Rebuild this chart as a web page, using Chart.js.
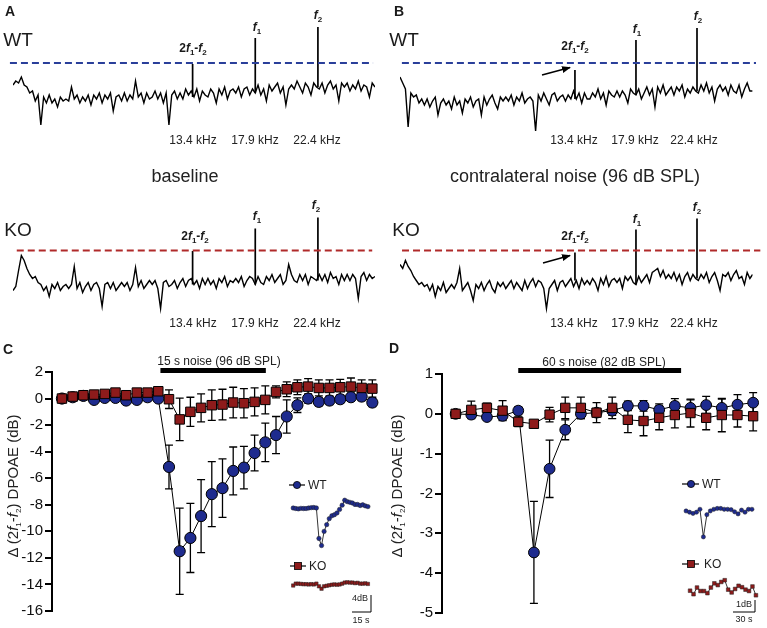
<!DOCTYPE html>
<html>
<head>
<meta charset="utf-8">
<script src="https://cdn.jsdelivr.net/npm/chart.js@4.4.0/dist/chart.umd.min.js"></script>
<style>
body { margin: 0; background: #fff; }
#fig { position: relative; width: 767px; height: 628px; overflow: hidden;
       font-family: "Liberation Sans", Arial, sans-serif; color: #1a1a1a; }
#fig canvas, #fig svg { position: absolute; }
.t { position: absolute; transform: translate(-50%, -50%); white-space: nowrap; line-height: 1; }
.l { position: absolute; transform: translate(0, -50%); white-space: nowrap; line-height: 1; }
.letter { font-weight: bold; font-size: 14px; }
.big { font-size: 19px; }
.khz { font-size: 12px; color: #222; }
.pk { font-size: 12px; font-weight: bold; }
.pk sub, .yt sub { font-size: 8px; vertical-align: -3px; }
.cond { font-size: 18px; color: #222; }
.noise { font-size: 12px; color: #222; }
.yt { font-size: 15px; color: #222; transform: translate(-50%, -50%) rotate(-90deg); }
.leg { font-size: 12px; color: #222; }
.sb { font-size: 9px; color: #222; }
</style>
</head>
<body>
<div id="fig">
  <canvas id="sAW" width="384" height="140" style="left:0;top:0"></canvas>
  <canvas id="sBW" width="383" height="140" style="left:384px;top:0"></canvas>
  <canvas id="sAK" width="384" height="140" style="left:0;top:185px"></canvas>
  <canvas id="sBK" width="383" height="140" style="left:384px;top:185px"></canvas>
  <canvas id="cC" width="384" height="273" style="left:0;top:355px"></canvas>
  <canvas id="cD" width="383" height="271" style="left:384px;top:357px"></canvas>
  <canvas id="iWC" width="90" height="60" style="left:286px;top:495px"></canvas>
  <canvas id="iKC" width="90" height="25" style="left:286px;top:572px"></canvas>
  <canvas id="iWD" width="82" height="55" style="left:678px;top:495px"></canvas>
  <canvas id="iKD" width="82" height="30" style="left:682px;top:575px"></canvas>

  <svg width="767" height="628" style="left:0;top:0">
    <defs>
      <marker id="ah" markerUnits="userSpaceOnUse" markerWidth="9" markerHeight="7" refX="8" refY="3.5" orient="auto">
        <path d="M0,0 L9,3.5 L0,7 z" fill="#000"/>
      </marker>
    </defs>
    <line x1="542" y1="75" x2="570" y2="67.5" stroke="#000" stroke-width="1.5" marker-end="url(#ah)"/>
    <line x1="543" y1="263" x2="570" y2="255.5" stroke="#000" stroke-width="1.5" marker-end="url(#ah)"/>
    <!-- inset legends -->
    <line x1="289" y1="485" x2="305" y2="485" stroke="#000" stroke-width="1.2"/>
    <circle cx="297" cy="485" r="3.6" fill="#1e2b8e" stroke="#000" stroke-width="0.8"/>
    <line x1="290" y1="566" x2="306" y2="566" stroke="#000" stroke-width="1.2"/>
    <rect x="294.5" y="562.5" width="7" height="7" fill="#8e1b1b" stroke="#000" stroke-width="0.8"/>
    <line x1="682" y1="484" x2="699" y2="484" stroke="#000" stroke-width="1.2"/>
    <circle cx="691" cy="484" r="3.6" fill="#1e2b8e" stroke="#000" stroke-width="0.8"/>
    <line x1="682" y1="564" x2="699" y2="564" stroke="#000" stroke-width="1.2"/>
    <rect x="687.5" y="560.5" width="7" height="7" fill="#8e1b1b" stroke="#000" stroke-width="0.8"/>
    <!-- scale bars -->
    <polyline points="371,595 371,612 352,612" fill="none" stroke="#000" stroke-width="1"/>
    <polyline points="755,600 755,612 733,612" fill="none" stroke="#000" stroke-width="1"/>
  </svg>

  <div class="l letter" style="left:5px;top:11px">A</div>
  <div class="l letter" style="left:394px;top:11px">B</div>
  <div class="l letter" style="left:3px;top:349px">C</div>
  <div class="l letter" style="left:389px;top:348px">D</div>

  <div class="t big" style="left:18px;top:39px">WT</div>
  <div class="t big" style="left:404px;top:39px">WT</div>
  <div class="t big" style="left:18px;top:229px">KO</div>
  <div class="t big" style="left:406px;top:229px">KO</div>

  <div class="t pk" style="left:193px;top:49px">2<i>f</i><sub>1</sub>-<i>f</i><sub>2</sub></div>
  <div class="t pk" style="left:257px;top:28px"><i>f</i><sub>1</sub></div>
  <div class="t pk" style="left:318px;top:16px"><i>f</i><sub>2</sub></div>
  <div class="t pk" style="left:195px;top:237px">2<i>f</i><sub>1</sub>-<i>f</i><sub>2</sub></div>
  <div class="t pk" style="left:257px;top:217px"><i>f</i><sub>1</sub></div>
  <div class="t pk" style="left:316px;top:206px"><i>f</i><sub>2</sub></div>
  <div class="t pk" style="left:575px;top:47px">2<i>f</i><sub>1</sub>-<i>f</i><sub>2</sub></div>
  <div class="t pk" style="left:637px;top:30px"><i>f</i><sub>1</sub></div>
  <div class="t pk" style="left:698px;top:17px"><i>f</i><sub>2</sub></div>
  <div class="t pk" style="left:575px;top:237px">2<i>f</i><sub>1</sub>-<i>f</i><sub>2</sub></div>
  <div class="t pk" style="left:637px;top:220px"><i>f</i><sub>1</sub></div>
  <div class="t pk" style="left:697px;top:208px"><i>f</i><sub>2</sub></div>

  <div class="t khz" style="left:193px;top:140px">13.4 kHz</div>
  <div class="t khz" style="left:255px;top:140px">17.9 kHz</div>
  <div class="t khz" style="left:317px;top:140px">22.4 kHz</div>
  <div class="t khz" style="left:574px;top:140px">13.4 kHz</div>
  <div class="t khz" style="left:635px;top:140px">17.9 kHz</div>
  <div class="t khz" style="left:694px;top:140px">22.4 kHz</div>
  <div class="t khz" style="left:193px;top:323px">13.4 kHz</div>
  <div class="t khz" style="left:255px;top:323px">17.9 kHz</div>
  <div class="t khz" style="left:317px;top:323px">22.4 kHz</div>
  <div class="t khz" style="left:574px;top:323px">13.4 kHz</div>
  <div class="t khz" style="left:635px;top:323px">17.9 kHz</div>
  <div class="t khz" style="left:694px;top:323px">22.4 kHz</div>

  <div class="t cond" style="left:185px;top:176px">baseline</div>
  <div class="t cond" style="left:575px;top:176px">contralateral noise (96 dB SPL)</div>

  <div class="t noise" style="left:219px;top:361px">15 s noise (96 dB SPL)</div>
  <div class="t noise" style="left:604px;top:362px">60 s noise (82 dB SPL)</div>

  <div class="t yt" style="left:14px;top:486px">&Delta; (2<i>f</i><sub>1</sub>-<i>f</i><sub>2</sub>) DPOAE (dB)</div>
  <div class="t yt" style="left:398px;top:486px">&Delta; (2<i>f</i><sub>1</sub>-<i>f</i><sub>2</sub>) DPOAE (dB)</div>

  <div class="l leg" style="left:308px;top:485px">WT</div>
  <div class="l leg" style="left:309px;top:566px">KO</div>
  <div class="l leg" style="left:702px;top:484px">WT</div>
  <div class="l leg" style="left:704px;top:564px">KO</div>

  <div class="t sb" style="left:360px;top:598px">4dB</div>
  <div class="t sb" style="left:361px;top:620px">15 s</div>
  <div class="t sb" style="left:744px;top:604px">1dB</div>
  <div class="t sb" style="left:744px;top:619px">30 s</div>
</div>

<script>
// ---- spectra (A, B): level in dB re. the dashed line, one sample every 0.2 kHz from 0.5 kHz
var freqStart = 0.5;
var freqStep = 0.2;
var freqEnd = 26.5;

var wtBaseline = [
  -11, -9, -10, -7, -11, -12, -15, -14, -19, -16,
  -31, -17, -20, -16, -20, -18, -22, -17, -19, -18,
  -19, -12, -18, -16, -20, -17, -19, -16, -21, -16,
  -18, -15, -20, -16, -18, -15, -24, -17, -16, -19,
  -15, -19, -16, -18, -9, -17, -15, -20, -15, -18,
  -17, -14, -18, -15, -20, -15, -31, -16, -14, -18,
  -15, -18, -13, -16, -14, -17, -13, -19, -14, -16,
  -17, -13, -15, -20, -13, -16, -12, -18, -14, -13,
  -15, -12, -17, -13, -12, -16, -13, -15, -11, -16,
  -13, -19, -11, -14, -12, -10, -15, -12, -21, -13,
  -11, -13, -9, -12, -15, -10, -12, -16, -10, -12,
  -13, -10, -15, -11, -9, -13, -11, -19, -10, -12,
  -10, -14, -11, -13, -9, -14, -11, -12, -17, -10,
  -12
];
var wtNoise = [
  -7, -10, -13, -32, -15, -17, -16, -20, -18, -21,
  -18, -22, -19, -17, -26, -20, -18, -21, -19, -23,
  -17, -21, -19, -25, -18, -20, -17, -22, -19, -18,
  -26, -17, -21, -18, -16, -20, -23, -17, -19, -17,
  -19, -16, -21, -17, -19, -15, -20, -18, -17, -19,
  -34, -16, -19, -15, -18, -21, -16, -15, -19, -17,
  -16, -19, -16, -18, -14, -18, -15, -20, -15, -18,
  -18, -15, -17, -13, -18, -15, -21, -14, -16, -17,
  -14, -17, -14, -16, -20, -13, -15, -16, -13, -18,
  -15, -12, -16, -13, -22, -12, -15, -11, -16, -14,
  -12, -16, -12, -14, -11, -17, -13, -15, -12, -14,
  -15, -11, -14, -10, -15, -12, -19, -13, -11, -14,
  -12, -16, -11, -14, -15, -11, -17, -13, -10, -14,
  -14
];
var koBaseline = [
  -20, -18, -10, -2.5, -5, -9, -12, -14, -13, -16,
  -17, -20, -18, -23, -17, -19, -16, -20, -18, -17,
  -19, -17, -8, -19, -16, -21, -18, -16, -20, -17,
  -16, -19, -28, -17, -16, -19, -16, -20, -18, -16,
  -18, -16, -20, -17, -8.5, -18, -15, -19, -17, -15,
  -17, -15, -19, -29, -16, -15, -18, -17, -15, -19,
  -16, -14, -18, -15, -14, -17, -15, -19, -14, -17,
  -14, -17, -15, -19, -14, -16, -13, -18, -15, -16,
  -14, -16, -13, -18, -15, -13, -14, -17, -13, -16,
  -17, -13, -15, -12, -16, -14, -12, -17, -15, -7,
  -12, -15, -16, -12, -15, -12, -17, -13, -14, -15,
  -12, -15, -12, -16, -11, -14, -13, -17, -12, -15,
  -12, -15, -12, -14, -24, -13, -11, -15, -12, -14,
  -13
];
var koNoise = [
  -7, -9, -5, -8, -10, -13, -15, -17, -16, -18,
  -17, -20, -17, -23, -18, -20, -16, -21, -19, -17,
  -19, -16, -9, -20, -18, -16, -20, -25, -17, -19,
  -16, -20, -17, -15, -19, -21, -16, -18, -16, -19,
  -17, -15, -19, -16, -18, -20, -15, -19, -16, -14,
  -18, -15, -16, -19, -29, -19, -17, -15, -20, -16,
  -15, -18, -16, -14, -18, -15, -19, -14, -17, -15,
  -17, -14, -16, -20, -14, -17, -13, -18, -15, -14,
  -16, -14, -19, -13, -15, -13, -16, -17, -13, -16,
  -14, -12, -16, -11, -10, -9, -13, -10, -14, -12,
  -14, -11, -15, -12, -17, -13, -11, -15, -12, -14,
  -15, -12, -14, -11, -16, -13, -11, -15, -20, -12,
  -13, -11, -15, -12, -10, -14, -13, -17, -11, -14,
  -12
];

// 2f1-f2, f1, f2
var peakFreqs = [13.4, 17.9, 22.4];
var wtBaselinePeaks = [-0.5, 12.5, 18];
var wtNoisePeaks = [-3.5, 11.5, 17.5];
var koBaselinePeaks = [-0.3, 11, 16.5];
var koNoisePeaks = [-1, 10.5, 16];

// dashed reference line extent (kHz)
var dashA = [0.28, 26.36];
var dashB = [0.64, 26.75];
var dashAK = [0.77, 26.3];
var dashBK = [0.65, 27.07];

// ---- C: 15 s noise (96 dB SPL), mean +- error
var wtC = [0, 0.1, 0.2, -0.1, 0.05, 0.05, -0.15, -0.1, 0.1, 0, -5.15, -11.5, -10.5, -8.85, -7.2, -6.75, -5.45, -5.2, -4.1, -3.3, -2.75, -1.35, -0.5, 0, -0.25, -0.15, -0.05, 0.1, 0.15, -0.3];
var wtCErr = [0.1, 0.1, 0.1, 0.1, 0.1, 0.1, 0.15, 0.15, 0.15, 0.15, 1.65, 3.25, 2.6, 2.75, 2.45, 2.2, 1.8, 1.6, 1.35, 1.45, 1.4, 1.25, 0.55, 0.35, 0.3, 0.3, 0.3, 0.3, 0.3, 0.3];
var koC = [0, 0.15, 0.25, 0.3, 0.35, 0.45, 0.25, 0.45, 0.45, 0.55, -0.05, -1.57, -1.0, -0.7, -0.5, -0.45, -0.3, -0.35, -0.25, -0.1, 0.5, 0.7, 0.85, 0.9, 0.8, 0.8, 0.85, 0.9, 0.8, 0.75];
var koCErr = [0.1, 0.1, 0.1, 0.1, 0.15, 0.15, 0.15, 0.15, 0.15, 0.15, 0.7, 1.6, 1.1, 1.05, 1.15, 1.15, 1.15, 1.1, 1.05, 1.05, 0.45, 0.55, 0.55, 0.6, 0.6, 0.6, 0.6, 0.65, 0.6, 0.65];
var noiseC = [9.2, 19.05];
var insetWtC = [0, -0.15, -0.25, -0.1, -0.15, -0.15, 0, 0.1, 0.15, 0, -8.6, -10.6, -6.6, -4.7, -3.0, -2.2, -1.9, -1.4, -0.4, 0.8, 2.2, 1.8, 1.6, 1.4, 1.0, 1.0, 0.7, 0.9, 0.6, 0.4];
var insetKoC = [-0.5, 0.2, 0.2, 0.1, 0, 0, -0.1, 0, -0.1, 0.2, -0.8, -1.7, -0.8, -0.6, -0.4, -0.2, -0.1, -0.2, -0.1, 0.2, 0.6, 0.7, 0.6, 0.6, 0.4, 0.5, 0.2, 0.2, 0.3, 0.1];

// ---- D: 60 s noise (82 dB SPL)
var wtD = [0, -0.02, -0.08, -0.05, 0.08, -3.48, -1.38, -0.4, 0, 0.03, 0.08, 0.2, 0.2, 0.1, 0.2, 0.15, 0.22, 0.15, 0.23, 0.28];
var wtDErr = [0.05, 0.08, 0.08, 0.1, 0.1, 1.28, 0.72, 0.25, 0.12, 0.1, 0.12, 0.12, 0.13, 0.15, 0.18, 0.2, 0.22, 0.22, 0.25, 0.25];
var koD = [0, 0.1, 0.15, 0.08, -0.2, -0.25, -0.02, 0.15, 0.15, 0.03, 0.15, -0.15, -0.18, -0.1, -0.03, 0.02, -0.1, -0.03, -0.03, -0.06];
var koDErr = [0.05, 0.22, 0.12, 0.25, 0.12, 0.08, 0.18, 0.27, 0.27, 0.25, 0.27, 0.32, 0.37, 0.3, 0.32, 0.35, 0.3, 0.42, 0.3, 0.37];
var noiseD = [4.0, 14.4];
var insetWtD = [-0.1, -0.25, -0.4, -0.25, 0.1, -3.2, -0.55, -0.1, 0.1, 0.2, 0.2, 0.1, 0.1, 0.05, -0.2, -0.45, 0, -0.25, 0.1, 0.1];
var insetKoD = [-0.1, -0.6, 0.35, -0.15, -0.15, -0.45, 0.35, 0.95, 0.7, 1.15, 1.4, 0.05, -0.35, 0.15, 0.6, 0.4, 0.05, -0.15, 0.5, -0.75];

var BLUE = '#1e2b8e';
var RED = '#8e1b1b';

Chart.defaults.font.family = '"Liberation Sans", Arial, sans-serif';
Chart.defaults.animation = false;

function noAxes(xr, yr) {
  return {
    x: { type: 'linear', min: xr[0], max: xr[1], display: false },
    y: { min: yr[0], max: yr[1], display: false }
  };
}

function spectrum(id, levels, tops, dash, dashColor, yr, pad) {
  var trace = levels.map(function (v, i) { return { x: freqStart + i * freqStep, y: v }; });
  var peaks = [];
  peakFreqs.forEach(function (f, k) {
    var base = levels[Math.round((f - freqStart) / freqStep)];
    peaks.push({ x: f, y: base }, { x: f, y: tops[k] }, { x: f, y: null });
  });
  new Chart(document.getElementById(id), {
    type: 'line',
    data: { datasets: [
      { data: [{ x: dash[0], y: 0 }, { x: dash[1], y: 0 }], borderColor: dashColor, borderWidth: 2,
        borderDash: [7, 4], pointRadius: 0, clip: false },
      { data: trace, borderColor: '#000', borderWidth: 1.4, pointRadius: 0 },
      { data: peaks, borderColor: '#000', borderWidth: 1.7, pointRadius: 0, spanGaps: false }
    ] },
    options: {
      responsive: false, events: [],
      layout: { padding: pad },
      plugins: { legend: { display: false }, tooltip: { enabled: false } },
      scales: noAxes([freqStart, freqEnd], yr)
    }
  });
}

spectrum('sAW', wtBaseline, wtBaselinePeaks, dashA, '#2a3f9a', [-36, 26.5], { left: 13, right: 9, top: 10, bottom: 5 });
spectrum('sBW', wtNoise, wtNoisePeaks, dashB, '#2a3f9a', [-36, 26.5], { left: 16, right: 14.4, top: 10, bottom: 5 });
spectrum('sAK', koBaseline, koBaselinePeaks, dashAK, '#b02a2a', [-33.75, 27.75], { left: 13, right: 9, top: 10, bottom: 7 });
spectrum('sBK', koNoise, koNoisePeaks, dashBK, '#b02a2a', [-33.75, 27.75], { left: 16, right: 14.4, top: 10, bottom: 7 });

// error bars drawn under the markers, from the y scale
var errorBars = {
  id: 'errorBars',
  beforeDatasetsDraw: function (chart) {
    var ctx = chart.ctx, ys = chart.scales.y;
    ctx.save();
    ctx.strokeStyle = '#000';
    ctx.lineWidth = 1.3;
    chart.data.datasets.forEach(function (ds, i) {
      if (!ds.errors) return;
      var meta = chart.getDatasetMeta(i);
      meta.data.forEach(function (pt, j) {
        var v = ds.data[j].y, e = ds.errors[j];
        var top = ys.getPixelForValue(v + e), bot = ys.getPixelForValue(v - e);
        ctx.beginPath();
        ctx.moveTo(pt.x, top); ctx.lineTo(pt.x, bot);
        ctx.moveTo(pt.x - 4, top); ctx.lineTo(pt.x + 4, top);
        ctx.moveTo(pt.x - 4, bot); ctx.lineTo(pt.x + 4, bot);
        ctx.stroke();
      });
    });
    ctx.restore();
  }
};

function toPts(arr) { return arr.map(function (v, i) { return { x: i, y: v }; }); }

function panel(id, wt, wtErr, ko, koErr, noise, noiseLevel, xr, yr, step, axisW, pad, rCircle, rRect) {
  new Chart(document.getElementById(id), {
    type: 'line',
    data: { datasets: [
      { label: 'noise', data: [{ x: noise[0], y: noiseLevel }, { x: noise[1], y: noiseLevel }],
        borderColor: '#000', borderWidth: 5, pointRadius: 0, clip: false, order: 0 },
      { label: 'KO', data: toPts(ko), errors: koErr, borderColor: '#000', borderWidth: 1,
        pointStyle: 'rect', pointRadius: rRect, pointBackgroundColor: RED, pointBorderColor: '#000',
        pointBorderWidth: 1, clip: false, order: 1 },
      { label: 'WT', data: toPts(wt), errors: wtErr, borderColor: '#000', borderWidth: 1,
        pointStyle: 'circle', pointRadius: rCircle, pointBackgroundColor: BLUE, pointBorderColor: '#000',
        pointBorderWidth: 1, clip: false, order: 2 }
    ] },
    options: {
      responsive: false, events: [],
      layout: { padding: pad },
      plugins: { legend: { display: false }, tooltip: { enabled: false } },
      scales: {
        x: { type: 'linear', min: xr[0], max: xr[1], display: false },
        y: {
          min: yr[0], max: yr[1],
          afterFit: function (s) { s.width = axisW; },
          border: { display: true, color: '#000', width: 2 },
          grid: { drawOnChartArea: false, drawTicks: true, tickLength: 7, color: '#000', lineWidth: 2 },
          ticks: { stepSize: step, color: '#111', font: { size: 15 }, padding: 2 }
        }
      }
    },
    plugins: [errorBars]
  });
}

panel('cC', wtC, wtCErr, koC, koCErr, noiseC, 2.11, [-0.93, 29.37], [-16, 2], 2, 52,
      { left: 0, right: 6, top: 17, bottom: 17 }, 5.6, 6.7);
panel('cD', wtD, wtDErr, koD, koDErr, noiseD, 1.09, [-0.87, 19.4], [-5, 1], 1, 58,
      { left: 0, right: 5, top: 17, bottom: 15 }, 5.4, 6.6);

function inset(id, values, style, color, radius, xr, yr) {
  new Chart(document.getElementById(id), {
    type: 'line',
    data: { datasets: [{
      data: toPts(values), borderColor: '#000', borderWidth: 0.8,
      pointStyle: style, pointRadius: radius, pointBackgroundColor: color,
      pointBorderColor: '#222', pointBorderWidth: 0.5, clip: false
    }] },
    options: {
      responsive: false, events: [],
      layout: { padding: 0 },
      plugins: { legend: { display: false }, tooltip: { enabled: false } },
      scales: noAxes(xr, yr)
    }
  });
}

inset('iWC', insetWtC, 'circle', BLUE, 2.2, [-1.05, 30.4], [-12.0, 2.4]);
inset('iKC', insetKoC, 'rect', RED, 2.4, [-1.05, 30.4], [-3.12, 2.88]);
inset('iWD', insetWtD, 'circle', BLUE, 2.1, [-1.03, 20.03], [-4.23, 1.27]);
inset('iKD', insetKoD, 'rect', RED, 2.6, [-1.03, 20.03], [-1.5, 1.5]);
</script>
</body>
</html>
